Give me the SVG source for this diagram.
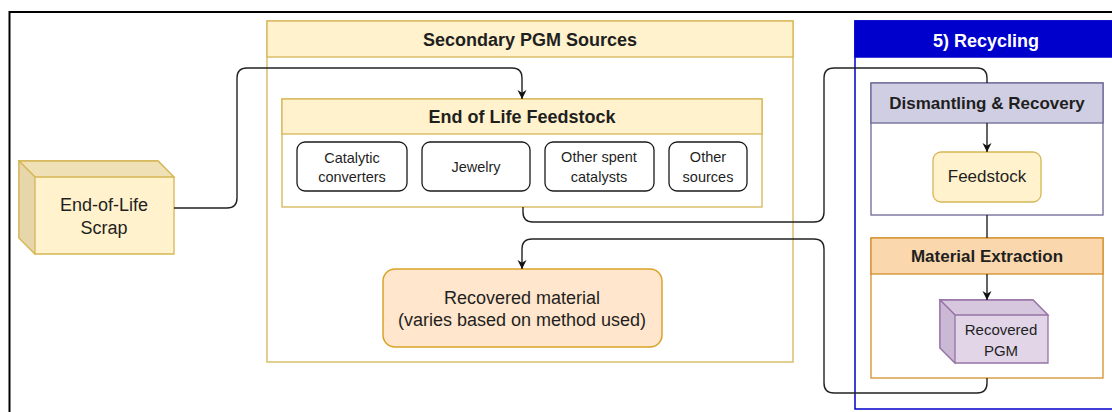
<svg xmlns="http://www.w3.org/2000/svg" width="1112" height="412" viewBox="0 0 1112 412">
  <defs>
    <marker id="arrow" viewBox="0 0 10 10" refX="10" refY="5" markerWidth="9" markerHeight="10" markerUnits="userSpaceOnUse" orient="auto">
      <path d="M0,0 L10,5 L0,10 L3,5 Z" fill="#111"/>
    </marker>
    <style>
      text { font-family: "Liberation Sans", Arial, sans-serif; fill: #1f1f1f; text-anchor: middle; }
      .title { font-weight: bold; font-size: 18px; }
      .sub { font-weight: bold; font-size: 17px; }
      .body { font-size: 18px; }
      .small { font-size: 14.5px; }
      .yellow { fill: #fff2cc; stroke: #d6b656; stroke-width: 1.3; }
      .plain { fill: #ffffff; stroke: #d6b656; stroke-width: 1.3; }
      .item { fill: #ffffff; stroke: #1a1a1a; stroke-width: 1.3; }
      .conn { fill: none; stroke: #222; stroke-width: 1.4; }
    </style>
  </defs>

  <rect width="1112" height="412" fill="#ffffff"/>

  <!-- outer frame -->
  <rect x="9.5" y="12" width="1120" height="420" fill="none" stroke="#000" stroke-width="2"/>

  <!-- Secondary PGM Sources container -->
  <g id="secondary-pgm-sources">
    <rect class="plain" x="267" y="21" width="526" height="341"/>
    <rect class="yellow" x="267" y="21" width="526" height="36"/>
    <text class="title" x="530" y="46">Secondary PGM Sources</text>
  </g>

  <!-- End of Life Feedstock group -->
  <g id="end-of-life-feedstock">
    <rect class="plain" x="282" y="99" width="480" height="108"/>
    <rect class="yellow" x="282" y="99" width="480" height="35"/>
    <text class="title" x="522" y="123">End of Life Feedstock</text>
  </g>

  <g id="catalytic-converters">
    <rect class="item" x="297" y="142" width="110" height="49" rx="8"/>
    <text class="small" x="352" y="163">Catalytic</text>
    <text class="small" x="352" y="182">converters</text>
  </g>
  <g id="jewelry">
    <rect class="item" x="422" y="142" width="108" height="49" rx="8"/>
    <text class="small" x="476" y="172">Jewelry</text>
  </g>
  <g id="other-spent-catalysts">
    <rect class="item" x="545" y="142" width="109" height="49" rx="8"/>
    <text class="small" x="599" y="162">Other spent</text>
    <text class="small" x="599" y="182">catalysts</text>
  </g>
  <g id="other-sources">
    <rect class="item" x="669" y="142" width="78" height="49" rx="8"/>
    <text class="small" x="708" y="162">Other</text>
    <text class="small" x="708" y="182">sources</text>
  </g>

  <!-- Recovered material -->
  <g id="recovered-material">
    <rect x="383" y="269" width="279" height="78" rx="12" fill="#ffe6cc" stroke="#d9a227" stroke-width="1.5"/>
    <text class="body" x="522" y="304">Recovered material</text>
    <text class="body" x="522" y="326">(varies based on method used)</text>
  </g>

  <!-- End-of-Life Scrap cube -->
  <g id="end-of-life-scrap">
    <path d="M19,161 H158 L174,177 V254 H35 L19,238 Z" fill="#fff2cc" stroke="#d6b656" stroke-width="1.3"/>
    <path d="M19,161 H158 L174,177 H35 Z" fill="#efe0b6" stroke="#d6b656" stroke-width="1.3"/>
    <path d="M19,161 L35,177 V254 L19,238 Z" fill="#e6d6aa" stroke="#d6b656" stroke-width="1.3"/>
    <text class="body" x="104" y="211">End-of-Life</text>
    <text class="body" x="104" y="234">Scrap</text>
  </g>

  <!-- 5) Recycling container -->
  <g id="recycling">
    <rect x="855" y="21" width="270" height="388" fill="#ffffff" stroke="#0000cc" stroke-width="1.5"/>
    <rect x="855" y="21" width="270" height="36" fill="#0000cc" stroke="#0000cc" stroke-width="1.5"/>
    <text class="title" x="986" y="47" style="fill:#ffffff">5) Recycling</text>
  </g>

  <g id="dismantling-recovery">
    <rect x="871" y="83" width="232" height="132" fill="#ffffff" stroke="#6c6796" stroke-width="1.3"/>
    <rect x="871" y="83" width="232" height="40" fill="#d0cee2" stroke="#6c6796" stroke-width="1.3"/>
    <text class="sub" x="987" y="109">Dismantling &amp; Recovery</text>
  </g>

  <g id="feedstock">
    <rect class="yellow" x="933" y="152" width="108" height="50" rx="8"/>
    <text class="body" x="987" y="182" style="font-size:17px">Feedstock</text>
  </g>

  <g id="material-extraction">
    <rect x="871" y="238" width="232" height="140" fill="#ffffff" stroke="#d38f2c" stroke-width="1.3"/>
    <rect x="871" y="238" width="232" height="36" fill="#fad7ac" stroke="#d38f2c" stroke-width="1.3"/>
    <text class="sub" x="987" y="262">Material Extraction</text>
  </g>

  <!-- Recovered PGM cube -->
  <g id="recovered-pgm">
    <path d="M940,300 H1033 L1048,315 V363 H955 L940,348 Z" fill="#e1d5e7" stroke="#9673a6" stroke-width="1.3"/>
    <path d="M940,300 H1033 L1048,315 H955 Z" fill="#d6c6de" stroke="#9673a6" stroke-width="1.3"/>
    <path d="M940,300 L955,315 V363 L940,348 Z" fill="#cbb8d5" stroke="#9673a6" stroke-width="1.3"/>
    <text x="1001" y="335" style="font-size:15px">Recovered</text>
    <text x="1001" y="356" style="font-size:15px">PGM</text>
  </g>

  <!-- connectors -->
  <g id="connectors">
    <path class="conn" d="M174,208 H227 Q237,208 237,198 V78 Q237,68 247,68 H512 Q522,68 522,78 V99" marker-end="url(#arrow)"/>
    <path class="conn" d="M523,207 V212 Q523,222 533,222 H814 Q824,222 824,212 V78 Q824,68 834,68 H977 Q987,68 987,78 V83"/>
    <path class="conn" d="M987,123 V152" marker-end="url(#arrow)"/>
    <path class="conn" d="M987,215 V238"/>
    <path class="conn" d="M987,274 V300" marker-end="url(#arrow)"/>
    <path class="conn" d="M987,378 V383 Q987,393 977,393 H834 Q824,393 824,383 V249 Q824,239 814,239 H532 Q522,239 522,249 V269" marker-end="url(#arrow)"/>
  </g>
</svg>
